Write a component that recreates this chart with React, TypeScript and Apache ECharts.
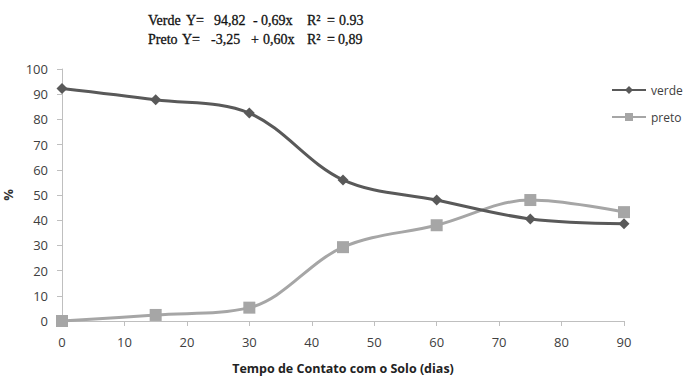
import React, { useEffect, useRef } from "react";
import * as echarts from "echarts";

const days = [0, 15, 30, 45, 60, 75, 90];
const verde = [92.3, 87.8, 82.5, 56, 48, 40.5, 38.6];
const preto = [0, 2.4, 5.3, 29.3, 38, 48, 43.2];
const titleVerde = ["Verde", "Y=", "94,82", "-", "0,69x", "R²", "=", "0.93"];
const titlePreto = ["Preto", "Y=", "-3,25", "+", "0,60x", "R²", "=", "0,89"];

export default function App() {
  const ref = useRef<HTMLDivElement>(null);
  useEffect(() => {
    const chart = echarts.init(ref.current!, null, { renderer: "svg" });
    const font = "'Open Sans', 'DejaVu Sans', sans-serif";
    const xs1 = [148, 186, 214, 253, 261, 307, 327, 339];
    const xs2 = [148, 182, 211, 251, 263, 307, 327, 338];
    const mk = (tokens: string[], xs: number[], y: number) =>
      tokens.map((t, i) => ({
        type: "text",
        x: xs[i],
        y,
        style: {
          text: t,
          font: "14px 'Liberation Serif', serif",
          fill: "#111",
          stroke: "#111",
          lineWidth: 0.3,
          textVerticalAlign: "middle",
        },
      }));
    chart.setOption({
      animation: false,
      backgroundColor: "#ffffff",
      graphic: [...mk(titleVerde, xs1, 20), ...mk(titlePreto, xs2, 39)],
      legend: {
        orient: "vertical",
        left: 606,
        top: 79,
        itemWidth: 34,
        itemHeight: 10,
        itemGap: 15,
        textStyle: { color: "#404040", fontFamily: font, fontSize: 12 },
        data: ["verde", "preto"],
      },
      grid: { left: 62, right: 62, top: 69, bottom: 55, outerBoundsMode: "none", containLabel: false },
      xAxis: {
        type: "value",
        min: 0,
        max: 90,
        interval: 10,
        name: "Tempo de Contato com o Solo (dias)",
        nameLocation: "middle",
        nameGap: 41,
        nameTextStyle: { color: "#222", fontFamily: font, fontSize: 12.5, fontWeight: "bold" },
        axisLine: { lineStyle: { color: "#bfbfbf" } },
        axisTick: { show: true, length: 5, lineStyle: { color: "#bfbfbf" } },
        axisLabel: { color: "#404040", fontFamily: font, fontSize: 13, margin: 14 },
        splitLine: { show: false },
      },
      yAxis: {
        type: "value",
        min: 0,
        max: 100,
        interval: 10,
        name: "%",
        nameLocation: "middle",
        nameGap: 40,
        nameRotate: 90,
        nameTextStyle: { color: "#333", fontFamily: font, fontSize: 13, fontWeight: "bold" },
        axisLine: { show: true, lineStyle: { color: "#bfbfbf" } },
        axisTick: { show: true, length: 5, lineStyle: { color: "#bfbfbf" } },
        axisLabel: { color: "#404040", fontFamily: font, fontSize: 13, margin: 14 },
        splitLine: { show: false },
      },
      series: [
        {
          name: "verde",
          type: "line",
          smooth: 0.35,
          data: days.map((d, i) => [d, verde[i]]),
          symbol: "diamond",
          symbolSize: 11,
          lineStyle: { color: "#595959", width: 3 },
          itemStyle: { color: "#595959" },
          z: 3,
        },
        {
          name: "preto",
          type: "line",
          smooth: 0.35,
          data: days.map((d, i) => [d, preto[i]]),
          symbol: "rect",
          symbolSize: 12,
          lineStyle: { color: "#a6a6a6", width: 3 },
          itemStyle: { color: "#a6a6a6" },
          z: 2,
        },
      ],
    });
    return () => chart.dispose();
  }, []);
  return <div ref={ref} style={{ width: 686, height: 376, position: "absolute", left: 0, top: 0 }} />;
}
